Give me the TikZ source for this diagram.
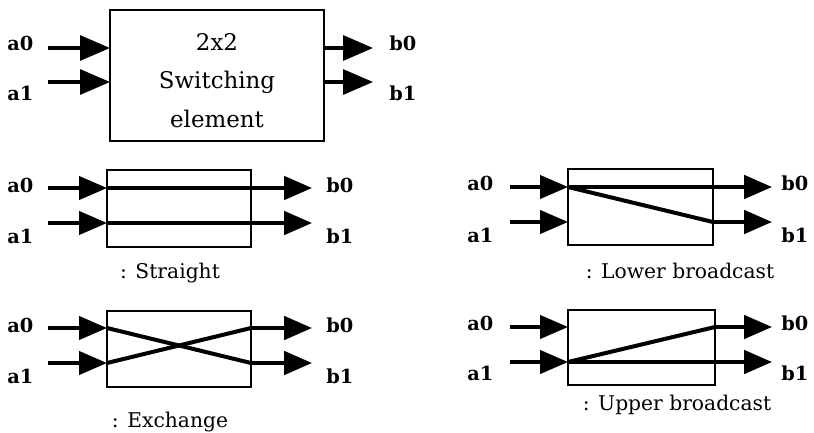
\documentclass[tikz,border=0pt]{standalone}
\usepackage{fontspec}
\setmainfont{DejaVu Serif}
\usetikzlibrary{arrows.meta}
\begin{document}
\begin{tikzpicture}[x=0.75pt,y=-0.75pt,
  lbl/.style={font=\fontsize{14.5}{16}\selectfont\bfseries,anchor=base west,inner sep=0pt},
  captxt/.style={font=\fontsize{15.2}{18}\selectfont,anchor=base,inner sep=0pt},
  btxt/.style={font=\fontsize{17.2}{20}\selectfont,anchor=base,inner sep=0pt},
  swbox/.style={draw,line width=1.5pt,inner sep=0pt},
  inarr/.style={line width=2.4pt,-{Triangle[length=21pt,width=17.5pt]}},
  bigarr/.style={line width=2.4pt,-{Triangle[length=22.5pt,width=18.75pt]}},
  wire/.style={line width=3pt},
  wirearr/.style={line width=3pt,-{Triangle[length=21pt,width=17.5pt]}}]
\useasboundingbox (0,0) rectangle (814,432);

% ---------- top: 2x2 switching element ----------
\node[swbox,minimum width=160.5pt,minimum height=98.25pt] (sw) at (217,75.5) {};
\node[btxt] (t1) at (217,50) {2x2};
\node[btxt] (t2) at (217,88) {Switching};
\node[btxt] (t3) at (217,127) {element};
\node[lbl] (ta0) at (7,50) {a0};
\node[lbl] (ta1) at (7,100) {a1};
\node[lbl] (tb0) at (389,50) {b0};
\node[lbl] (tb1) at (389,100) {b1};
\coordinate (ts0) at (48,48);  \coordinate (ti0) at (110,48);
\coordinate (ts1) at (48,82);  \coordinate (ti1) at (110,82);
\coordinate (to0) at (324,48); \coordinate (te0) at (373,48);
\coordinate (to1) at (324,82); \coordinate (te1) at (373,82);
\draw[bigarr] (ts0) -- (ti0);
\draw[bigarr] (ts1) -- (ti1);
\draw[bigarr] (to0) -- (te0);
\draw[bigarr] (to1) -- (te1);

% ---------- Straight ----------
\node[swbox,minimum width=108pt,minimum height=57.75pt] (sbox) at (179,208.5) {};
\node[lbl] (sa0) at (7,192) {a0};
\node[lbl] (sa1) at (7,243) {a1};
\node[lbl] (sb0) at (326,192) {b0};
\node[lbl] (sb1) at (326,243) {b1};
\node[captxt] (scap) at (170,278) {: Straight};
\coordinate (ss0) at (48,188);  \coordinate (si0) at (107,188);
\coordinate (ss1) at (48,223);  \coordinate (si1) at (107,223);
\coordinate (se0) at (312,188); \coordinate (se1) at (312,223);
\draw[inarr] (ss0) -- (si0);
\draw[inarr] (ss1) -- (si1);
\draw[wirearr] (si0) -- (se0);
\draw[wirearr] (si1) -- (se1);

% ---------- Lower broadcast ----------
\node[swbox,minimum width=108.75pt,minimum height=57pt] (lbox) at (640.5,207) {};
\node[lbl] (la0) at (467,190) {a0};
\node[lbl] (la1) at (467,242) {a1};
\node[lbl] (lb0) at (781,190) {b0};
\node[lbl] (lb1) at (781,242) {b1};
\node[captxt] (lcap) at (680,278) {: Lower broadcast};
\coordinate (ls0) at (510,187); \coordinate (li0) at (568,187);
\coordinate (ls1) at (510,222); \coordinate (li1) at (568,222);
\coordinate (lo1) at (713,222);
\coordinate (le0) at (772,187); \coordinate (le1) at (772,222);
\draw[inarr] (ls0) -- (li0);
\draw[inarr] (ls1) -- (li1);
\draw[wirearr] (li0) -- (le0);
\draw[wire] (li0) -- (lo1);
\draw[wirearr] (lo1) -- (le1);

% ---------- Exchange ----------
\node[swbox,minimum width=108pt,minimum height=57pt] (xbox) at (179,349) {};
\node[lbl] (xa0) at (7,332) {a0};
\node[lbl] (xa1) at (7,383) {a1};
\node[lbl] (xb0) at (326,332) {b0};
\node[lbl] (xb1) at (326,383) {b1};
\node[captxt] (xcap) at (170,427) {: Exchange};
\coordinate (xs0) at (48,328);  \coordinate (xi0) at (107,328);
\coordinate (xs1) at (48,363);  \coordinate (xi1) at (107,363);
\coordinate (xo0) at (251,328); \coordinate (xo1) at (251,363);
\coordinate (xe0) at (312,328); \coordinate (xe1) at (312,363);
\draw[inarr] (xs0) -- (xi0);
\draw[inarr] (xs1) -- (xi1);
\draw[wire] (xi0) -- (xo1);
\draw[wire] (xi1) -- (xo0);
\draw[wirearr] (xo0) -- (xe0);
\draw[wirearr] (xo1) -- (xe1);

% ---------- Upper broadcast ----------
\node[swbox,minimum width=110.25pt,minimum height=56.25pt] (ubox) at (641.5,347.5) {};
\node[lbl] (ua0) at (467,330) {a0};
\node[lbl] (ua1) at (467,380) {a1};
\node[lbl] (ub0) at (781,330) {b0};
\node[lbl] (ub1) at (781,380) {b1};
\node[captxt] (ucap) at (677,410) {: Upper broadcast};
\coordinate (us0) at (510,327); \coordinate (ui0) at (568,327);
\coordinate (us1) at (510,362); \coordinate (ui1) at (568,362);
\coordinate (uo0) at (715,327);
\coordinate (ue0) at (772,327); \coordinate (ue1) at (772,362);
\draw[inarr] (us0) -- (ui0);
\draw[inarr] (us1) -- (ui1);
\draw[wire] (ui1) -- (uo0);
\draw[wirearr] (uo0) -- (ue0);
\draw[wirearr] (ui1) -- (ue1);
\end{tikzpicture}
\end{document}
